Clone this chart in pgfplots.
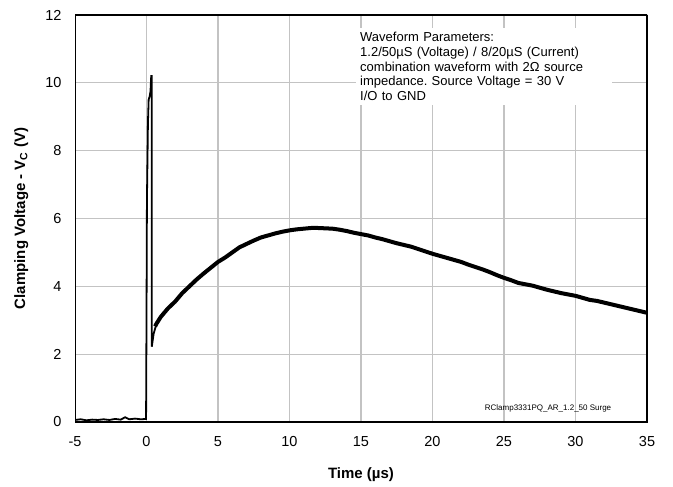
\documentclass[border=0pt]{standalone}
\usepackage{fontspec}
\setmainfont{Liberation Sans}
\usepackage{pgfplots}
\pgfplotsset{compat=1.18}
\definecolor{gridgray}{RGB}{195,195,195}
\frenchspacing

\begin{document}
\begin{tikzpicture}
\useasboundingbox (-75bp,-65bp) rectangle (598bp,422bp);
\begin{axis}[
    at={(0,0)}, anchor=south west,
    scale only axis,
    width=572bp, height=407bp,
    xmin=-5, xmax=35, ymin=0, ymax=12,
    xtick={-5,0,...,35}, ytick={0,2,...,12},
    major tick length=0pt,
    /pgf/number format/assume math mode=true,
    ticklabel style={font=\fontsize{14.5bp}{16bp}\selectfont},
    xticklabel style={yshift=-11bp},
    yticklabel style={xshift=-10bp},
    xlabel={\textbf{Time (µs)}},
    ylabel={\textbf{Clamping Voltage - V\textsubscript{C} (V)}},
    xlabel style={at={(axis description cs:0.5,-0.13)}, anchor=center, font=\fontsize{15bp}{17bp}\selectfont},
    ylabel style={at={(axis description cs:-0.094,0.5)}, anchor=center, rotate=0, font=\fontsize{15bp}{17bp}\selectfont},
]

% light grid at the major ticks
\pgfplotsinvokeforeach{0,5,10,15,20,25,30}{
    \draw[gridgray, line width=1.3bp] (axis cs:#1,0) -- (axis cs:#1,12);
}
\pgfplotsinvokeforeach{2,4,6,8,10}{
    \draw[gridgray, line width=1.3bp] (axis cs:-5,#1) -- (axis cs:35,#1);
}

% pre-trigger baseline, rise, spike and drop
\addplot[black, line width=1.8bp] coordinates {
    (-5,0.06) (-4.6,0.08) (-4.2,0.05) (-3.8,0.07) (-3.4,0.06) (-3.0,0.08)
    (-2.6,0.06) (-2.2,0.09) (-1.8,0.07) (-1.5,0.14) (-1.2,0.08) (-0.8,0.10)
    (-0.4,0.08) (-0.03,0.09) (0.0,3.0) (0.03,6.5) (0.1,8.8) (0.15,9.5)
    (0.22,9.6) (0.28,9.75) (0.33,10.2) (0.36,10.2) (0.37,2.22) (0.5,2.6)
    (0.7,2.9)
};

% clamped tail (noisy trace)
\addplot[black, line width=4bp, line join=round] coordinates {
    (0.6,2.82) (0.7,2.9) (1.0,3.1) (1.5,3.35) (2.0,3.55) (2.5,3.8) (3.0,4.0)
    (3.5,4.2) (4.0,4.38) (4.5,4.55) (5.0,4.72) (5.5,4.85) (6.0,5.0)
    (6.5,5.15) (7.0,5.25) (7.5,5.35) (8.0,5.44) (8.5,5.5) (9.0,5.56)
    (9.5,5.61) (10.0,5.65) (10.5,5.68) (11.0,5.70) (11.5,5.72) (12.0,5.72)
    (12.5,5.71) (13.0,5.70) (13.5,5.67) (14.0,5.63) (14.5,5.58) (15.0,5.54)
    (15.5,5.5) (16.0,5.44) (16.5,5.39) (17.0,5.33) (17.5,5.27) (18.0,5.22)
    (18.5,5.17) (19.0,5.1) (19.5,5.03) (20.0,4.96) (20.5,4.9) (21.0,4.84)
    (21.5,4.78) (22.0,4.72) (22.5,4.64) (23.0,4.57) (23.5,4.5) (24.0,4.42)
    (24.5,4.33) (25.0,4.25) (25.5,4.18) (26.0,4.1) (26.5,4.06) (27.0,4.02)
    (27.5,3.96) (28.0,3.9) (28.5,3.85) (29.0,3.8) (29.5,3.76) (30.0,3.72)
    (30.5,3.66) (31.0,3.6) (31.5,3.57) (32.0,3.52) (32.5,3.47) (33.0,3.42)
    (33.5,3.37) (34.0,3.32) (34.5,3.27) (35.0,3.22)
};

\node[anchor=north west, fill=white, inner sep=4bp, text width=248bp, align=left,
      font=\fontsize{13bp}{14.8bp}\selectfont]
    at (axis cs:14.65,11.62)
    {Waveform Parameters:\\
     1.2/50µS (Voltage) / 8/20µS (Current)\\
     combination waveform with 2Ω source\\
     impedance. Source Voltage = 30 V\\
     I/O to GND};

\node[font=\fontsize{8bp}{9bp}\selectfont] at (axis cs:28.08,0.41)
    {RClamp3331PQ\_AR\_1.2\_50 Surge};

% heavy plot-area frame
\draw[black, line width=2.2bp] (rel axis cs:0,0) rectangle (rel axis cs:1,1);

\end{axis}
\end{tikzpicture}
\end{document}
